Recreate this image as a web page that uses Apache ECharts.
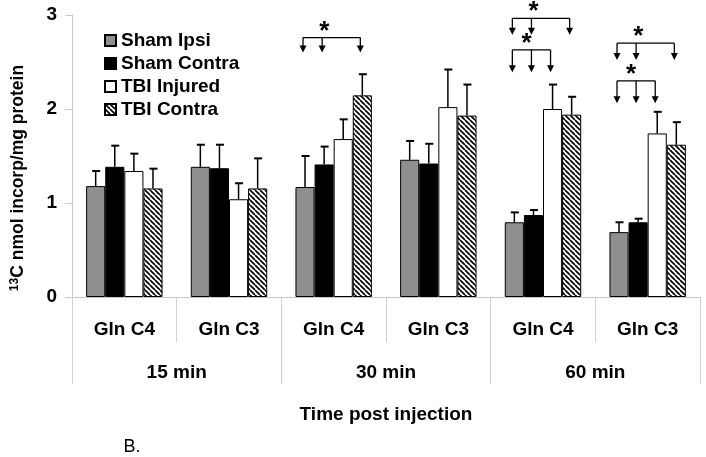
<!DOCTYPE html>
<html><head><meta charset="utf-8">
<script src="https://cdn.jsdelivr.net/npm/echarts@6/dist/echarts.min.js"></script>
<style>html,body{margin:0;padding:0;background:#fff}#c{width:706px;height:457px}</style>
</head><body><div id="c"></div>
<script>
// ---- data ----
const categories = ['Gln C4', 'Gln C3', 'Gln C4', 'Gln C3', 'Gln C4', 'Gln C3'];
const timeGroups = ['15 min', '30 min', '60 min'];
const seriesNames = ['Sham Ipsi', 'Sham Contra', 'TBI Injured', 'TBI Contra'];
const yTicks = [0, 1, 2, 3];

const shamIpsi      = [1.18, 1.385, 1.17, 1.46, 0.795, 0.69];
const shamIpsiErr   = [0.16, 0.235, 0.33, 0.20, 0.105, 0.105];
const shamContra    = [1.385, 1.37, 1.41, 1.42, 0.872, 0.795];
const shamContraErr = [0.225, 0.25, 0.19, 0.21, 0.053, 0.038];
const tbiInjured    = [1.34, 1.04, 1.68, 2.02, 2.00, 1.74];
const tbiInjuredErr = [0.185, 0.17, 0.21, 0.40, 0.26, 0.23];
const tbiContra     = [1.155, 1.155, 2.145, 1.93, 1.94, 1.62];
const tbiContraErr  = [0.21, 0.32, 0.225, 0.33, 0.19, 0.24];

// significance brackets: category, bracket level, arrow tip level, compared bars
const sigCategory = [2, 4, 4, 5, 5];
const sigLine     = [2.76, 2.965, 2.63, 2.70, 2.30];
const sigTip      = [2.60, 2.79, 2.39, 2.52, 2.06];
const sigBars     = [[0, 1, 3], [0, 1, 3], [0, 1, 2], [0, 1, 3], [0, 1, 2]];

// ---- styling ----
const FONT = '"Liberation Sans", Arial, sans-serif';
const CAT_GAP = 0.27;
const BAR_FRAC = 1 - CAT_GAP;

function hatch() {
  const s = 5;
  const cv = document.createElement('canvas');
  cv.width = s; cv.height = s;
  const g = cv.getContext('2d');
  g.fillStyle = '#fff'; g.fillRect(0, 0, s, s);
  g.strokeStyle = '#000'; g.lineWidth = 1.7;
  for (const k of [-s, 0, s]) {
    g.beginPath(); g.moveTo(k, 0); g.lineTo(k + s, s); g.stroke();
  }
  return { image: cv, repeat: 'repeat' };
}

const values = [shamIpsi, shamContra, tbiInjured, tbiContra];
const errs = [shamIpsiErr, shamContraErr, tbiInjuredErr, tbiContraErr];
const fills = ['#8f8f8f', '#000000', '#ffffff', hatch()];

const series = [];
values.forEach((v, k) => {
  series.push({
    name: seriesNames[k], type: 'bar', data: v,
    barGap: '0%', barCategoryGap: (CAT_GAP * 100) + '%',
    itemStyle: { color: fills[k], borderColor: '#000', borderWidth: 1 },
    z: 2
  });
});
values.forEach((v, k) => {
  series.push({
    type: 'custom', z: 3, clip: false,
    data: v.map((m, i) => [i, m, errs[k][i]]),
    renderItem: function (params, api) {
      const c = api.value(0), m = api.value(1), e = api.value(2);
      const base = api.coord([c, m]);
      const top = api.coord([c, m + e]);
      const bw = api.size([1, 0])[0] * BAR_FRAC / 4;
      const x = base[0] + (k - 1.5) * bw;
      return { type: 'group', children: [
        { type: 'line', shape: { x1: x, y1: base[1], x2: x, y2: top[1] }, style: { stroke: '#000', lineWidth: 1.5 } },
        { type: 'line', shape: { x1: x - 3.5, y1: top[1], x2: x + 4.5, y2: top[1] }, style: { stroke: '#000', lineWidth: 2 } }
      ] };
    }
  });
});
series.push({
  type: 'custom', z: 4, clip: false,
  data: sigCategory.map((c, i) => [c, sigLine[i], sigTip[i]].concat(sigBars[i])),
  renderItem: function (params, api) {
    const c = api.value(0);
    const lp = api.coord([c, api.value(1)]);
    const ty = api.coord([c, api.value(2)])[1];
    const bw = api.size([1, 0])[0] * BAR_FRAC / 4;
    const xs = [api.value(3), api.value(4), api.value(5)].map(b => lp[0] + (b - 1.5) * bw - 2);
    const ly = lp[1];
    const ch = [{ type: 'line', shape: { x1: xs[0], y1: ly, x2: xs[2], y2: ly }, style: { stroke: '#000', lineWidth: 1.3 } }];
    xs.forEach(x => {
      ch.push({ type: 'line', shape: { x1: x, y1: ly, x2: x, y2: ty - 5 }, style: { stroke: '#000', lineWidth: 1.3 } });
      ch.push({ type: 'polygon', shape: { points: [[x - 3.5, ty - 7], [x + 3.5, ty - 7], [x, ty]] }, style: { fill: '#000' } });
    });
    const sx = xs[0] + 0.37 * (xs[2] - xs[0]);
    ch.push({ type: 'text', x: sx, y: ly + 7, style: { text: '*', fontSize: 26, fontWeight: 'bold', fontFamily: FONT, fill: '#000', align: 'center', verticalAlign: 'bottom' } });
    return { type: 'group', children: ch };
  }
});

const chart = echarts.init(document.getElementById('c'), null, { renderer: 'canvas' });
chart.setOption({
  animation: false,
  backgroundColor: '#fff',
  grid: { left: 72, right: 6, top: 15, bottom: 160 },
  legend: {
    data: seriesNames, orient: 'vertical', left: 104, top: 31, padding: 0,
    itemWidth: 11, itemHeight: 11, itemGap: 4, icon: 'rect',
    textStyle: { fontSize: 19, fontWeight: 'bold', fontFamily: FONT, color: '#000' }
  },
  xAxis: [{
    type: 'category', data: categories, position: 'bottom',
    axisLine: { show: true, lineStyle: { color: '#c8c8c8', width: 1 } },
    axisTick: { show: true, length: 45, interval: 0, lineStyle: { color: '#d0d0d0' } },
    axisLabel: { margin: 23, interval: 0, fontSize: 19, fontWeight: 'bold', fontFamily: FONT, color: '#000' }
  }, {
    type: 'category', data: timeGroups, position: 'bottom',
    axisLine: { show: false },
    axisTick: { show: true, length: 87, interval: 0, lineStyle: { color: '#d0d0d0' } },
    axisLabel: { margin: 66, interval: 0, fontSize: 19, fontWeight: 'bold', fontFamily: FONT, color: '#000' }
  }],
  yAxis: {
    type: 'value', min: yTicks[0], max: yTicks[yTicks.length - 1], interval: 1,
    axisLine: { show: true, lineStyle: { color: '#c8c8c8' } },
    axisTick: { show: true, length: 7, lineStyle: { color: '#c8c8c8' } },
    splitLine: { show: false },
    axisLabel: { margin: 15, fontSize: 19, fontWeight: 'bold', fontFamily: FONT, color: '#000' }
  },
  graphic: [
    { type: 'text', x: 18, y: 178, rotation: Math.PI / 2,
      style: { text: '{s|13}{b|C nmol incorp/mg protein}', align: 'center', verticalAlign: 'middle',
        rich: { s: { fontSize: 12, fontWeight: 'bold', fontFamily: FONT, fill: '#000', verticalAlign: 'top', lineHeight: 19 },
                b: { fontSize: 17.5, fontWeight: 'bold', fontFamily: FONT, fill: '#000', lineHeight: 19 } } } },
    { type: 'text', x: 386, y: 415, style: { text: 'Time post injection', align: 'center', verticalAlign: 'middle', fontSize: 19, fontWeight: 'bold', fontFamily: FONT, fill: '#000' } },
    { type: 'text', x: 132, y: 447, style: { text: 'B.', align: 'center', verticalAlign: 'middle', fontSize: 18, fontFamily: FONT, fill: '#000' } }
  ],
  series: series
});
</script>
</body></html>
